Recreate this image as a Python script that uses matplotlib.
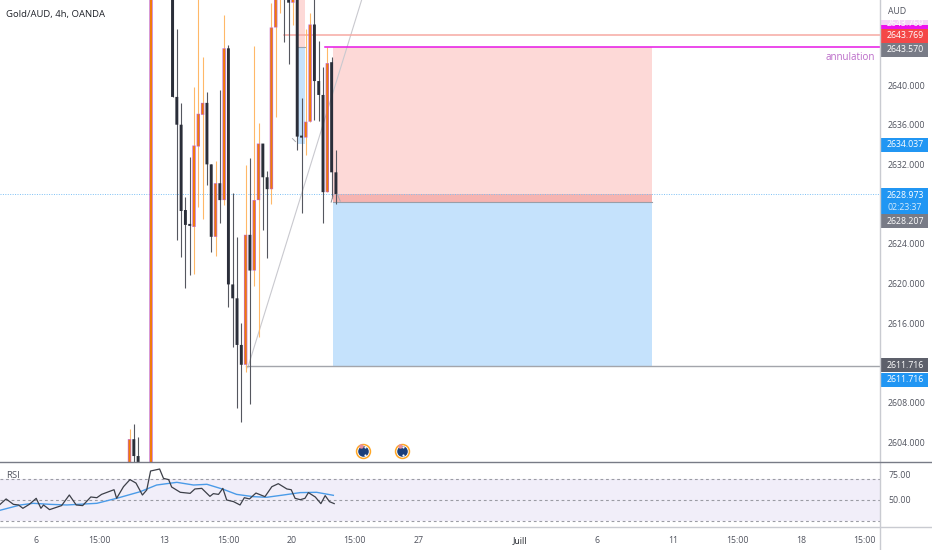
#!/usr/bin/env python3
"""Gold/AUD 4h chart with a short position box and an RSI pane."""
import matplotlib
matplotlib.use("Agg")
import matplotlib.pyplot as plt
from matplotlib.patches import Rectangle

plt.rcParams['font.family'] = ['Open Sans', 'DejaVu Sans']

# ── candles (bar index, open, high, low, close) ───────────────────────────────
bar = [-10, -9, -8, -5,
       0, 1, 2, 3, 4, 5, 6, 7, 8, 9,
       10, 11, 12, 13, 14, 15, 16, 17, 18, 19,
       20, 21, 22, 23, 24, 25, 26, 27, 28, 29,
       30, 31, 32, 33, 34, 35, 36, 37, 38]
opn = [2600.0, 2604.3, 2602.6, 2600.0,
       2655.0, 2638.8, 2636.0, 2627.4, 2626.0, 2625.7, 2633.8, 2637.0, 2638.2, 2632.0,
       2624.7, 2630.1, 2628.4, 2643.7, 2619.9, 2618.5, 2613.8, 2611.8, 2624.9, 2621.3,
       2628.4, 2634.1, 2630.7, 2629.5, 2645.8, 2650.0, 2655.0, 2655.0, 2648.3, 2655.0,
       2634.9, 2634.7, 2636.3, 2646.1, 2640.4, 2639.0, 2629.2, 2642.3, 2631.2]
high = [2605.3, 2605.8, 2604.5, 2655.0,
        2655.0, 2645.6, 2638.2, 2628.7, 2632.7, 2639.8, 2655.0, 2642.8, 2639.3, 2632.0,
        2632.3, 2639.5, 2647.1, 2644.0, 2629.1, 2624.7, 2616.0, 2631.9, 2632.6, 2643.9,
        2636.2, 2634.1, 2631.3, 2648.3, 2655.0, 2655.0, 2655.0, 2655.0, 2655.0, 2655.0,
        2638.7, 2645.6, 2647.3, 2655.0, 2644.4, 2641.8, 2643.8, 2642.8, 2633.4]
low = [2600.0, 2600.0, 2600.0, 2600.0,
       2638.8, 2624.4, 2622.7, 2619.5, 2620.8, 2621.0, 2627.7, 2626.5, 2629.9, 2623.2,
       2622.8, 2626.1, 2627.9, 2617.6, 2613.6, 2607.4, 2606.0, 2611.1, 2607.8, 2619.7,
       2614.6, 2625.4, 2622.6, 2628.0, 2636.8, 2647.3, 2644.3, 2642.1, 2646.1, 2633.4,
       2627.1, 2632.9, 2636.3, 2636.5, 2636.4, 2626.1, 2629.2, 2628.6, 2628.0]
close = [2604.3, 2602.6, 2600.0, 2655.0,
         2638.8, 2636.0, 2627.3, 2625.9, 2625.8, 2633.9, 2637.1, 2638.2, 2632.0, 2624.7,
         2630.1, 2628.4, 2643.7, 2619.9, 2618.5, 2613.8, 2611.8, 2624.9, 2621.3, 2628.4,
         2634.1, 2630.7, 2629.5, 2645.8, 2655.0, 2655.0, 2650.0, 2648.3, 2655.0, 2634.8,
         2634.7, 2636.3, 2646.1, 2640.4, 2639.0, 2629.2, 2642.2, 2631.2, 2629.0]

# ── RSI pane ──────────────────────────────────────────────────────────────────
rsi_x = [-40.1, -38.7, -37.0, -35.8, -34.8, -33.3, -31.7, -30.6, -30.0, -28.6,
         -25.8, -24.0, -22.4, -20.9, -19.0, -17.6, -16.5, -13.6, -13.0, -11.4,
         -9.9, -8.5, -7.0, -6.0, -5.1, -3.0, -2.1, -0.9, -0.2, 1.8,
         4.1, 5.2, 6.8, 8.7, 9.5, 10.7, 11.7, 12.6, 14.2, 15.7,
         16.7, 17.9, 19.4, 21.5, 23.1, 24.6, 26.6, 27.6, 28.5, 29.7,
         30.8, 31.6, 33.2, 34.5, 35.5, 36.5, 37.6]
rsi_val = [45.8, 51.0, 45.8, 45.2, 42.0, 45.8, 51.6, 42.0, 45.2, 40.7,
           44.6, 54.8, 45.2, 44.6, 52.9, 52.2, 55.4, 59.9, 51.6, 62.8,
           69.6, 66.3, 54.8, 59.6, 77.9, 79.8, 70.8, 69.6, 62.5, 57.4,
           56.4, 60.6, 61.2, 53.5, 56.1, 55.4, 61.2, 50.0, 48.4, 45.2,
           52.2, 51.0, 56.7, 53.2, 62.8, 65.7, 60.6, 59.9, 51.6, 50.3,
           51.6, 57.1, 52.9, 46.5, 54.2, 48.4, 46.5]
ma_x = [-40.1, -37.8, -35.4, -32.4, -28.5, -24.6, -17.6, -13.0, -7.5, -3.7, 1.0,
        4.9, 8.0, 11.8, 14.9, 18.8, 21.9, 25.8, 29.7, 33.5, 37.4]
ma_val = [40.1, 42.6, 45.2, 46.8, 45.8, 45.2, 46.8, 51.6, 58.0, 64.4, 67.0,
          64.4, 65.1, 60.3, 55.4, 53.2, 52.6, 54.8, 57.1, 57.4, 54.5]

# ── axis labels ───────────────────────────────────────────────────────────────
price_ticks = [2640, 2636, 2632, 2624, 2620, 2616, 2608, 2604]
rsi_ticks = [75, 50]
time_pos = [-31.7, -16.9, -2.0, 12.9, 27.6, 42.4, 57.3, 80.8, 98.7, 116.4, 131.3, 146.2, 161.0]
time_labels = ['6', '15:00', '13', '15:00', '20', '15:00', '27', 'Juill', '6', '11', '15:00', '18', '15:00']

# ── drawings on the chart ─────────────────────────────────────────────────────
entry = 2628.207
target = 2611.716
last_price = 2628.973
stop_line = 2643.8
red_line = 2645.0
box_start, box_end = 37.3, 111.5
old_start, old_end = 28.95, 30.8
old_mid = 2634.037
trend_x = [17.5, 45.0]
trend_y = [2611.5, 2650.0]

# price axis tags: (y centre, text, colour, text colour)
tags = [(35.5, '2643.769', '#f44848', 'white'),
        (50.0, '2643.570', '#787b86', 'white'),
        (144.5, '2634.037', '#2196f3', 'white'),
        (221.0, '2628.207', '#787b86', 'white'),
        (365.0, '2611.716', '#5d606b', 'white'),
        (380.0, '2611.716', '#2196f3', 'white')]

W, H = 932, 550
BLACK = '#2a2e39'
ORANGE = '#f57c00'
TEXT = '#50535e'

fig = plt.figure(figsize=(W / 100, H / 100), dpi=100)
ax = fig.add_axes([0, (H - 462) / H, 880 / W, 462 / H])
ax_rsi = fig.add_axes([0, (H - 527) / H, 880 / W, 64 / H])
over = fig.add_axes([0, 0, 1, 1], zorder=5)
over.set_xlim(0, W); over.set_ylim(H, 0); over.axis('off'); over.patch.set_alpha(0)

xlim = (-40.12, 164.53)
ax.set_xlim(*xlim)
ax.set_ylim(2602.0, 2648.57)
ax_rsi.set_xlim(*xlim)
ax_rsi.set_ylim(24.0, 85.6)

# ── position boxes (behind the candles) ───────────────────────────────────────
ax.add_patch(Rectangle((old_start, stop_line), old_end - old_start, 10, color='#fdd9d7', lw=0, zorder=1))
ax.add_patch(Rectangle((old_start, old_mid), old_end - old_start, stop_line - old_mid, color='#c5e2fc', lw=0, zorder=1))
ax.plot([old_start, old_end], [stop_line, stop_line], color='#9aa5b1', lw=0.8, zorder=1.5)
ax.add_patch(Rectangle((box_start, entry), box_end - box_start, stop_line - entry, color='#fdd9d7', lw=0, zorder=1))
ax.add_patch(Rectangle((box_start, target), box_end - box_start, entry - target, color='#c5e2fc', lw=0, zorder=1))
ax.add_patch(Rectangle((box_start, entry), box_end - box_start, last_price - entry, color='#f6b4b1', lw=0, zorder=1.2))
ax.plot([box_start, box_end], [entry, entry], color='#9a9ea8', lw=0.8, zorder=1.5)

ax.plot(trend_x, trend_y, color='#c9c9cf', lw=0.8, zorder=1.6)
ax.plot([17.2, xlim[1]], [target, target], color='#a3a5ab', lw=1.0, zorder=1.6)
ax.plot([26.0, xlim[1]], [red_line, red_line], color='#f7a9a3', lw=1.1, zorder=1.6)
ax.axhline(last_price, color='#7cc0f5', lw=0.7, ls=(0, (1, 1.5)), zorder=1.7)

# ── candles ───────────────────────────────────────────────────────────────────
for b, o, h, l, c in zip(bar, opn, high, low, close):
    up = c >= o
    ax.vlines(b, l, h, color='#ffb868' if up else '#55575f', lw=0.8, zorder=2)
    lo, hi = min(o, c), max(o, c)
    tall = max(hi - lo, 0.15)
    if up:
        # purple outline round an orange core, drawn unsnapped so it blurs like the original
        ax.add_patch(Rectangle((b - 0.39, lo), 0.78, tall, facecolor='#c268c4', lw=0, zorder=3, snap=False))
        ax.add_patch(Rectangle((b - 0.22, lo + 0.06), 0.44, max(tall - 0.12, 0.02), facecolor=ORANGE, lw=0,
                               zorder=3.1, snap=False))
    else:
        ax.add_patch(Rectangle((b - 0.34, lo), 0.68, tall, facecolor=BLACK, lw=0, zorder=3, snap=False))
ax.plot([35.5, xlim[1]], [stop_line, stop_line], color='#e617e6', lw=1.1, zorder=4)

# small arrow marks at the entries
ax.plot([27.9, 28.6], [2634.6, 2634.3], color='#a8aab0', lw=0.7, zorder=4)
ax.plot([36.9, 37.3], [2628.2, 2628.8], color='#888a92', lw=0.7, zorder=4)
ax.plot([38.3, 39.0], [2629.0, 2628.3], color='#a8aab0', lw=0.7, zorder=4)

# ── event icons ───────────────────────────────────────────────────────────────
for ex in [44.4, 53.3]:
    ax.scatter(ex, 2603.1, s=100, facecolor='white', edgecolor='#ffa726', lw=1.1, zorder=5, clip_on=False)
    ax.scatter(ex, 2603.1, s=58, color='#1b3f7a', lw=0, zorder=6)
    ax.scatter(ex - 0.5, 2603.6, s=10, color='#e88f9b', lw=0, zorder=7)
    ax.scatter(ex + 0.25, 2602.7, s=2.5, color='white', lw=0, zorder=7)
    ax.scatter(ex + 0.35, 2603.5, s=2.5, color='white', lw=0, zorder=7)

# ── RSI ───────────────────────────────────────────────────────────────────────
ax_rsi.axhspan(30, 70, color='#f1eef9', lw=0, zorder=1)
for lev in [70, 50, 30]:
    ax_rsi.axhline(lev, color='#9b9ca4', lw=0.8, ls=(0, (2.5, 2.5)), zorder=2)
ax_rsi.plot(ma_x, ma_val, color='#4a9be8', lw=1.0, zorder=3)
ax_rsi.plot(rsi_x, rsi_val, color='#3c3f48', lw=0.9, zorder=4)

for a in (ax, ax_rsi):
    for s in a.spines.values():
        s.set_visible(False)
    a.yaxis.tick_right()
    a.tick_params(length=0, labelsize=6.3, labelcolor=TEXT, pad=5.8)

ax.set_xticks([])
ax.set_yticks(price_ticks, [f'{p}.000' for p in price_ticks])
ax_rsi.set_yticks(rsi_ticks, [f'{r}.00' for r in rsi_ticks])
ax_rsi.set_xticks(time_pos, time_labels)
ax_rsi.tick_params(axis='x', pad=6.5)
ax_rsi.get_xticklabels()[7].set_color('#1f2229')

# ── frame lines, tags and text on top ─────────────────────────────────────────
over.plot([880, 880], [0, H], color='#c9cbd1', lw=1.0)
over.plot([0, W], [462, 462], color='#787b86', lw=1.0)
over.plot([0, W], [527, 527], color='#c9cbd1', lw=1.0)

over.text(6, 14, 'Gold/AUD, 4h, OANDA', fontsize=6.8, color='#1f2229', va='center')
over.text(888, 12, 'AUD', fontsize=6.3, color=TEXT, va='center')
over.text(875, 57.5, 'annulation', fontsize=7.0, color='#ba68c8', va='center', ha='right')
over.text(6, 476, 'RSI', fontsize=6.8, color=TEXT, va='center')

over.add_patch(Rectangle((881, 20), 47, 5.5, color='#f3d4f5', lw=0))
over.text(905, 23, '2643.769', fontsize=6.3, color='white', ha='center', va='center', clip_on=True)
over.add_patch(Rectangle((881, 25), 47, 4, color='#ee10ee', lw=0))
for yc, txt, bg, fg in tags:
    over.add_patch(Rectangle((881, yc - 7), 47, 14, color=bg, lw=0))
    over.text(905, yc, txt, fontsize=6.3, color=fg, ha='center', va='center')
over.add_patch(Rectangle((881, 187.5), 47, 26.5, color='#2196f3', lw=0))
over.text(905, 195, '2628.973', fontsize=6.3, color='white', ha='center', va='center')
over.text(905, 207, '02:23:37', fontsize=6.3, color='#d6ebfc', ha='center', va='center')

fig.savefig('out.png', dpi=100, facecolor='white')
